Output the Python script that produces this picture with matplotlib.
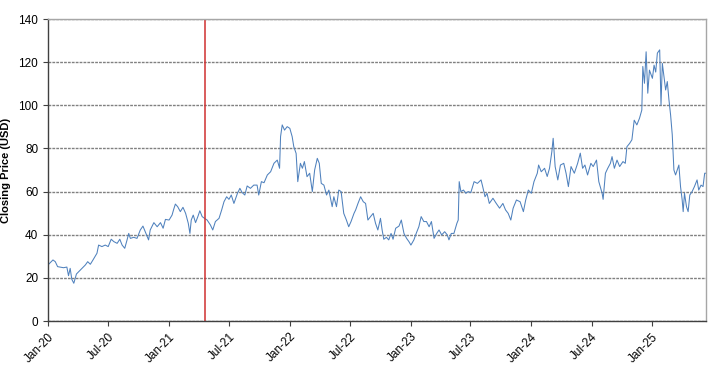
import matplotlib
matplotlib.use("Agg")
import matplotlib.pyplot as plt
import matplotlib.dates as mdates
import pandas as pd

plt.rcParams['font.family'] = ['Liberation Sans', 'DejaVu Sans']

dates_2020 = ["2020-01-01","2020-01-16","2020-01-23","2020-01-30","2020-02-07","2020-02-17","2020-02-27",
    "2020-03-03","2020-03-08","2020-03-13","2020-03-19","2020-03-27","2020-04-03","2020-04-13","2020-04-23",
    "2020-04-30","2020-05-08","2020-05-16","2020-05-28","2020-06-02","2020-06-12","2020-06-22","2020-07-01",
    "2020-07-10","2020-07-18","2020-07-28","2020-08-05","2020-08-12","2020-08-20","2020-08-27","2020-09-01",
    "2020-09-06","2020-09-16","2020-09-26","2020-10-06","2020-10-14","2020-10-21","2020-10-31","2020-11-05",
    "2020-11-16","2020-11-26","2020-12-06","2020-12-14","2020-12-21"]
close_2020 = [26,28.3,27.5,25.2,25,24.7,25,21,24.4,19.3,17.5,21.8,22.9,24.4,26,27.5,26.3,28.3,31.4,35.2,34.5,
    35.2,34.5,37.9,36.8,36,37.9,35.2,33.7,37.6,40.6,38.3,38.8,38.3,42.2,44,41.4,37.6,42.2,45.6,43.7,45.6,43,47.1]

dates_2021 = ["2021-01-01","2021-01-10","2021-01-15","2021-01-20","2021-01-27","2021-02-04","2021-02-12",
    "2021-02-20","2021-02-28","2021-03-05","2021-03-09","2021-03-15","2021-03-22","2021-03-29","2021-04-04",
    "2021-04-11","2021-04-18","2021-04-26","2021-05-06","2021-05-13","2021-05-21","2021-06-01","2021-06-09",
    "2021-06-16","2021-06-24","2021-07-01","2021-07-08","2021-07-16","2021-07-26","2021-08-03","2021-08-10",
    "2021-08-18","2021-08-25","2021-09-04","2021-09-14","2021-09-24","2021-09-29","2021-10-07","2021-10-15",
    "2021-10-25","2021-11-04","2021-11-14","2021-11-24","2021-12-01","2021-12-04","2021-12-09","2021-12-16",
    "2021-12-24"]
close_2021 = [46.8,49.1,51.8,54.2,53,50.7,52.7,49.9,45.3,40.6,46.8,49.1,45.6,48.4,51.1,48.4,47.6,46.8,44.5,
    42.2,46.1,47.6,51.5,55.3,57.6,56.4,58.4,54.5,58.9,61.5,59.5,58.4,62.6,61.5,63,63,58.4,64.6,64.1,67.7,
    69.2,73.1,74.6,70.8,85.5,90.9,88.5,90.1]

dates_2022 = ["2022-01-01","2022-01-08","2022-01-13","2022-01-20","2022-01-25","2022-02-02","2022-02-08",
    "2022-02-14","2022-02-22","2022-03-02","2022-03-10","2022-03-17","2022-03-25","2022-03-31","2022-04-06",
    "2022-04-14","2022-04-22","2022-04-29","2022-05-09","2022-05-14","2022-05-22","2022-05-29","2022-06-05",
    "2022-06-13","2022-06-21","2022-06-28","2022-07-05","2022-07-14","2022-07-19","2022-07-26","2022-08-03",
    "2022-08-11","2022-08-18","2022-08-25","2022-09-02","2022-09-10","2022-09-17","2022-09-24","2022-10-02",
    "2022-10-07","2022-10-12","2022-10-20","2022-10-27","2022-11-03","2022-11-09","2022-11-17","2022-11-27",
    "2022-12-04","2022-12-12","2022-12-20","2022-12-27"]
close_2022 = [89.3,85.5,80.8,77.7,64.6,73.1,70.8,73.9,66.9,68.5,60,70,75.4,73.1,63.8,63,58.4,60.7,53,57.6,
    53,60.7,60,49.9,46.8,43.7,46.1,49.9,51.5,54.5,57.6,55.3,54.5,46.8,48.4,49.9,45.3,42.2,47.6,42.2,37.9,
    38.8,37.6,40.6,37.9,43,44,46.8,40.6,38.3,36.8]

dates_2023 = ["2023-01-02","2023-01-11","2023-01-18","2023-01-26","2023-02-02","2023-02-10","2023-02-18",
    "2023-02-26","2023-03-05","2023-03-13","2023-03-21","2023-03-28","2023-04-05","2023-04-14","2023-04-22",
    "2023-04-27","2023-05-04","2023-05-12","2023-05-21","2023-05-25","2023-05-28","2023-06-02","2023-06-10",
    "2023-06-17","2023-06-24","2023-07-02","2023-07-12","2023-07-22","2023-08-02","2023-08-07","2023-08-14",
    "2023-08-20","2023-08-27","2023-09-07","2023-09-17","2023-09-27","2023-10-07","2023-10-15","2023-10-23",
    "2023-10-31","2023-11-07","2023-11-17","2023-11-28","2023-12-08","2023-12-15","2023-12-23"]
close_2023 = [35.2,37.6,40.6,43.7,48.4,46.1,46.1,43.7,46.1,38.3,40.6,42.2,39.9,41.4,39.9,37.6,40.6,40.6,
    45.3,46.8,64.6,60,60.7,59.2,60,59.5,64.6,63.8,65.4,62.3,57.6,59.2,54.5,56.9,54.5,52.3,54.5,51.5,49.9,
    46.8,52.3,56.1,55.3,50.7,56.1,60.7]

dates_2024 = ["2024-01-01","2024-01-09","2024-01-19","2024-01-23","2024-01-31","2024-02-10","2024-02-18",
    "2024-02-25","2024-03-03","2024-03-07","2024-03-13","2024-03-21","2024-03-29","2024-04-08","2024-04-15",
    "2024-04-22","2024-04-30","2024-05-10","2024-05-20","2024-05-28","2024-06-04","2024-06-11","2024-06-19",
    "2024-06-29","2024-07-06","2024-07-16","2024-07-23","2024-08-02","2024-08-05","2024-08-12","2024-08-19",
    "2024-08-27","2024-09-01","2024-09-08","2024-09-16","2024-09-24","2024-10-04","2024-10-11","2024-10-16",
    "2024-10-24","2024-10-31","2024-11-07","2024-11-15","2024-11-23","2024-11-30","2024-12-03","2024-12-08",
    "2024-12-13","2024-12-18","2024-12-23"]
close_2024 = [59.2,64.6,68.5,72.3,69.2,70.8,67,70.8,78.5,84.7,71.6,65.4,72.3,73.1,68.5,62.3,71.6,68.5,73.1,
    77.8,70.8,72.3,67.7,73.1,71.6,74.6,64.6,59.2,56.4,68.5,70.8,73.1,76.2,70.8,74.6,71.6,73.9,73.1,80.8,
    82.3,84,93.1,90.9,94,97.8,118,110.2,124.8,105.6,116.3]

dates_2025 = ["2025-01-01","2025-01-06","2025-01-11","2025-01-16","2025-01-23","2025-01-27","2025-01-31",
    "2025-02-05","2025-02-10","2025-02-15","2025-02-20","2025-02-25","2025-03-02","2025-03-07","2025-03-12",
    "2025-03-17","2025-03-22","2025-03-27","2025-04-01","2025-04-04","2025-04-08","2025-04-14","2025-04-19",
    "2025-04-24","2025-05-01","2025-05-08","2025-05-16","2025-05-21","2025-05-28","2025-06-03","2025-06-08",
    "2025-06-12"]
close_2025 = [112.5,118.6,115.4,124.2,125.7,100.1,119.4,113.3,107.1,111,102.5,95.5,86.3,70,67.7,70,72.3,
    62.3,56.1,50.7,59.2,53,50.7,58.4,60,62.3,65.4,60.7,63,62.3,68.5,68.5]

event_date = "2021-04-20"
y_ticks = [0, 20, 40, 60, 80, 100, 120, 140]
y_label = "Closing Price (USD)"

dates = pd.to_datetime(dates_2020 + dates_2021 + dates_2022 + dates_2023 + dates_2024 + dates_2025)
closes = close_2020 + close_2021 + close_2022 + close_2023 + close_2024 + close_2025

fig = plt.figure(figsize=(7.2, 3.68), dpi=100)
ax = fig.add_axes([48/720, 1-321/368, (706-48)/720, (321-19)/368])

ax.plot(dates, closes, color='#4f81bd', lw=0.75)
ax.axvline(pd.Timestamp(event_date), color='#d03030', lw=1.1)

ax.set_ylim(0, 140)
ax.set_yticks(y_ticks)
ax.set_xlim(pd.Timestamp(dates_2020[0]), pd.Timestamp(dates_2025[-1]))
ax.xaxis.set_major_locator(mdates.MonthLocator(bymonth=[1, 7]))
ax.xaxis.set_major_formatter(mdates.DateFormatter('%b-%y'))

ax.grid(axis='y', color='#808080', ls=(0, (2, 0.8)), lw=1.0)
ax.set_axisbelow(True)
for s in ['top', 'right']:
    ax.spines[s].set_color('#a6a6a6')
    ax.spines[s].set_linewidth(1.0)
for s in ['left', 'bottom']:
    ax.spines[s].set_color('#404040')
    ax.spines[s].set_linewidth(1.0)

ax.tick_params(axis='both', direction='out', length=3.5, width=0.8, color='#404040', labelsize=8.5)
plt.setp(ax.get_xticklabels(), rotation=45, ha='right', rotation_mode='anchor')
ax.set_ylabel(y_label, fontsize=8, fontweight='bold', labelpad=5)

fig.savefig('out.png', dpi=100)
